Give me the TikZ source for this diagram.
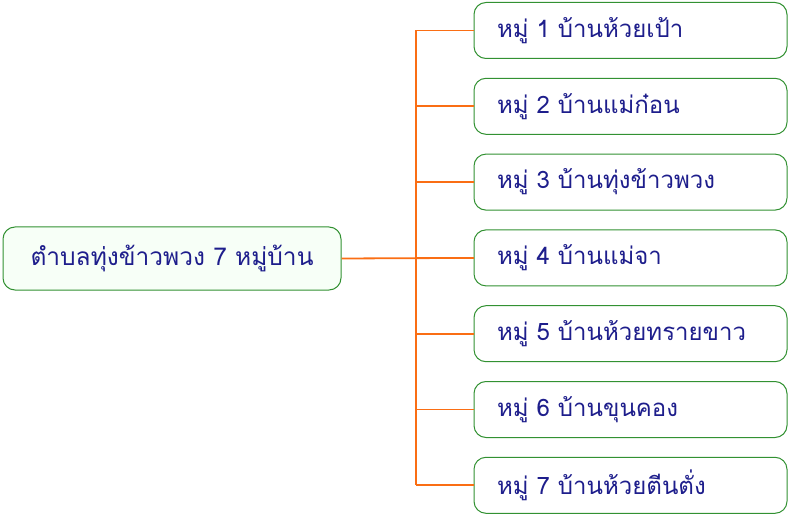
\documentclass[tikz,border=0pt]{standalone}
\usepackage{fontspec}
\newfontfamily\thaifont[Script=Thai]{Loma}
\definecolor{leaf}{RGB}{50,145,50}
\definecolor{ink}{RGB}{30,30,140}
\definecolor{branch}{RGB}{250,110,20}
\usetikzlibrary{positioning}
\tikzset{
  root/.style={draw=leaf, rounded corners=12pt, line width=1pt, fill=green!3,
              minimum width=338pt, minimum height=63pt, inner sep=0pt,
              font=\thaifont\fontsize{24.5}{28}\selectfont, text=ink},
  village/.style={draw=leaf, rounded corners=12pt, line width=1pt, fill=white,
              minimum width=313pt, minimum height=56pt, inner xsep=23pt, inner ysep=0pt,
              text width=267pt, align=left, anchor=west,
              font=\thaifont\fontsize{24}{28}\selectfont, text=ink},
  link/.style={branch, line width=1.8pt},
}
\begin{document}
\begin{tikzpicture}[x=1pt,y=-1pt]
  \useasboundingbox (0,0) rectangle (788,516);
  \node[root] (tambon) at (172,258.5) {ตำบลทุ่งข้าวพวง 7 หมู่บ้าน};
  \foreach \ban [count=\i] in {ห้วยเป้า,แม่ก๋อน,ทุ่งข้าวพวง,แม่จา,ห้วยทรายขาว,ขุนคอง,ห้วยตีนตั่ง}
    \node[village] (moo\i) at (473.5,{30.5+75.8*(\i-1)}) {หมู่ \i\ บ้าน\ban};
  \coordinate (fork) at (416,258.5);
  \draw[link] (fork |- moo1.west) -- (fork |- moo7.west);
  \draw[link] (tambon.east) -- (moo4.west);
  \foreach \i in {1,...,7}
    \draw[link] (fork |- moo\i.west) -- (moo\i.west);
\end{tikzpicture}
\end{document}
